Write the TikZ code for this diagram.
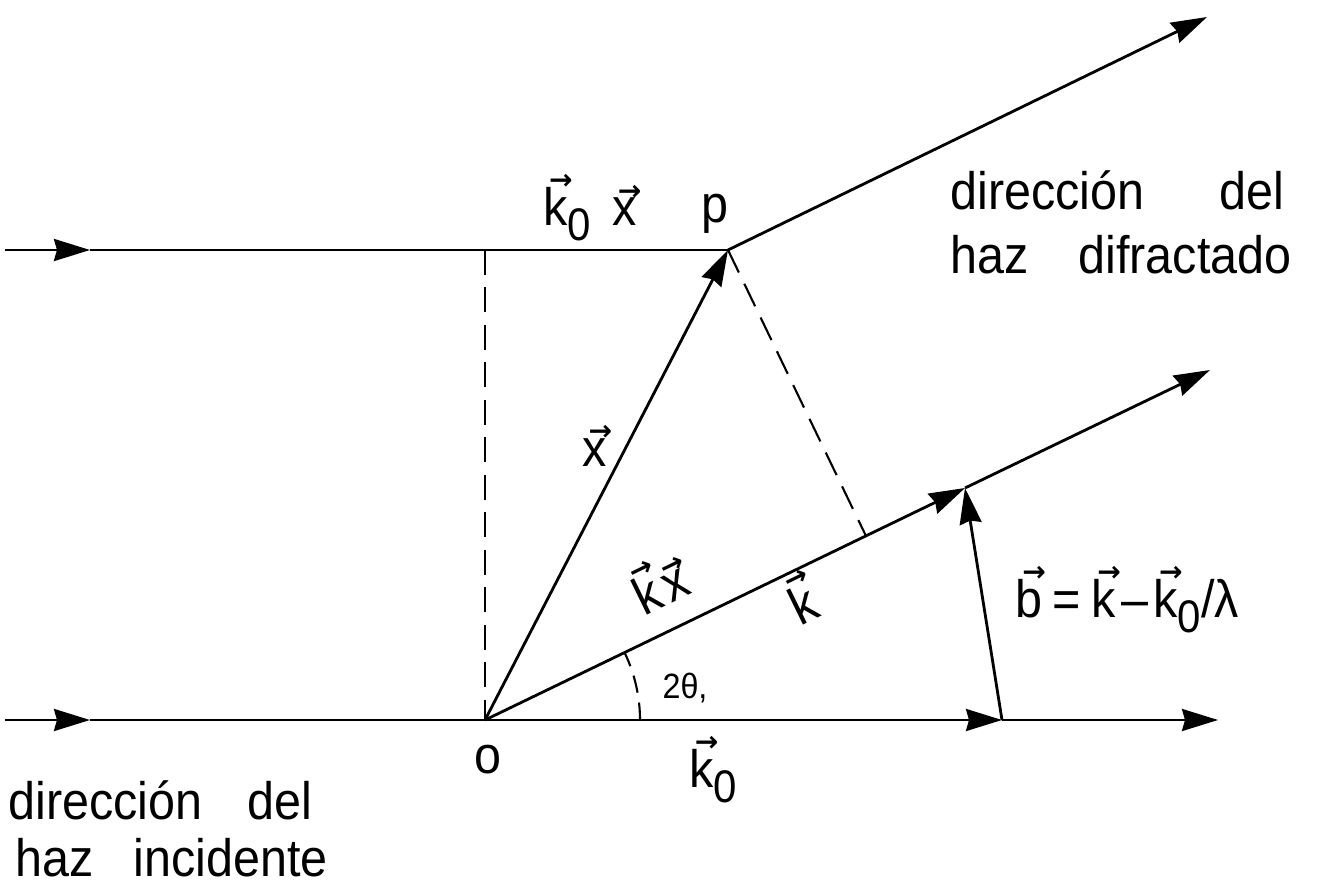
\documentclass[tikz,border=0pt]{standalone}
\usepackage{fontspec}
\setmainfont{Liberation Sans}[FakeStretch=0.92]
\newfontfamily\arrowfont{DejaVu Sans}
\usetikzlibrary{arrows.meta}
\newsavebox\vvbox
\newcommand{\vv}[1]{\sbox\vvbox{#1}\leavevmode\rlap{\hbox to\wd\vvbox{\hss\hspace{0.2em}%
    \raisebox{\dimexpr\ht\vvbox-1.5pt\relax}{\fontsize{16}{16}\arrowfont\bfseries →}\hss}}\usebox\vvbox}
\newcommand{\zsub}{\raisebox{-0.55ex}{\fontsize{26}{30}\selectfont 0}}
\begin{document}
\begin{tikzpicture}[x=0.02cm, y=0.02cm,
    >={Stealth[length=0.72cm,width=0.44cm,inset=0.06cm]},
    line/.style={line width=1.6pt},
    vec/.style={line, ->},
    guide/.style={line width=1.2pt, dash pattern=on 0.5cm off 0.25cm},
    lbl/.style={font=\fontsize{30}{36}\selectfont, inner sep=0pt}]
    \useasboundingbox (0,0) rectangle (1322,894);

    \coordinate (O) at (485,174);
    \coordinate (P) at (728,644);
    \coordinate (A) at (485,644);
    \coordinate (K0) at (1002,174);
    \coordinate (B) at (965,406);
    \coordinate (F) at (866,358);
    \coordinate (Ltop) at (5,644);
    \coordinate (Mtop) at (90,644);
    \coordinate (Lbot) at (5,174);
    \coordinate (Mbot) at (90,174);
    \coordinate (Ebot) at (1218,174);
    \coordinate (Ek) at (1210,524);
    \coordinate (Ep) at (1207,877);

    % incident beams
    \draw[vec] (Ltop) -- (Mtop);
    \draw[line] (Mtop) -- (P);
    \draw[vec] (Lbot) -- (Mbot);
    \draw[line] (Mbot) -- (O);
    \draw[vec] (O) -- (K0);
    \draw[vec] (K0) -- (Ebot);

    % diffracted beams
    \draw[vec] (P) -- (Ep);
    \draw[vec] (O) -- (B);
    \draw[vec] (B) -- (Ek);

    % x and b
    \draw[vec] (O) -- (P);
    \draw[vec] (K0) -- (B);

    % path differences
    \draw[guide] (A) -- (O);
    \draw[guide] (P) -- (F);
    \draw[line width=1.2pt, dash pattern=on 0.35cm off 0.2cm] (O) ++(155,0) arc (0:25.8:155);

    % labels
    \node[lbl] (k0x) at (590,686) {\vv{k}\zsub\hspace{0.4em}\vv{x}};
    \node[lbl] (p) at (715,680) {p};
    \node[lbl, anchor=west] (dd1) at (950,704) {dirección\hspace{1.5cm}del};
    \node[lbl, anchor=west] (dd2) at (950,639) {haz\hspace{1.0cm}difractado};
    \node[lbl] (x) at (595,448) {\vv{x}};
    \node[lbl, rotate=26] (kx) at (658,312) {\vv{k}\hspace{0.1em}\vv{x}};
    \node[lbl, rotate=26] (k) at (800,296) {\vv{k}};
    \node[lbl, anchor=west] (b) at (1015,294) {\vv{b}\hspace{0.2em}=\hspace{0.2em}\vv{k}\hspace{0.1em}--\hspace{0.1em}\vv{k}\zsub/λ};
    \node[font=\fontsize{20}{24}\selectfont, inner sep=0pt] (th) at (685,206) {2θ,};
    \node[lbl] (o) at (488,134) {o};
    \node[lbl] (k0) at (713,124) {\vv{k}\zsub};
    \node[lbl, anchor=west] (di1) at (8,94) {dirección\hspace{0.9cm}del};
    \node[lbl, anchor=west] (di2) at (15,36) {haz\hspace{0.8cm}incidente};
\end{tikzpicture}
\end{document}
